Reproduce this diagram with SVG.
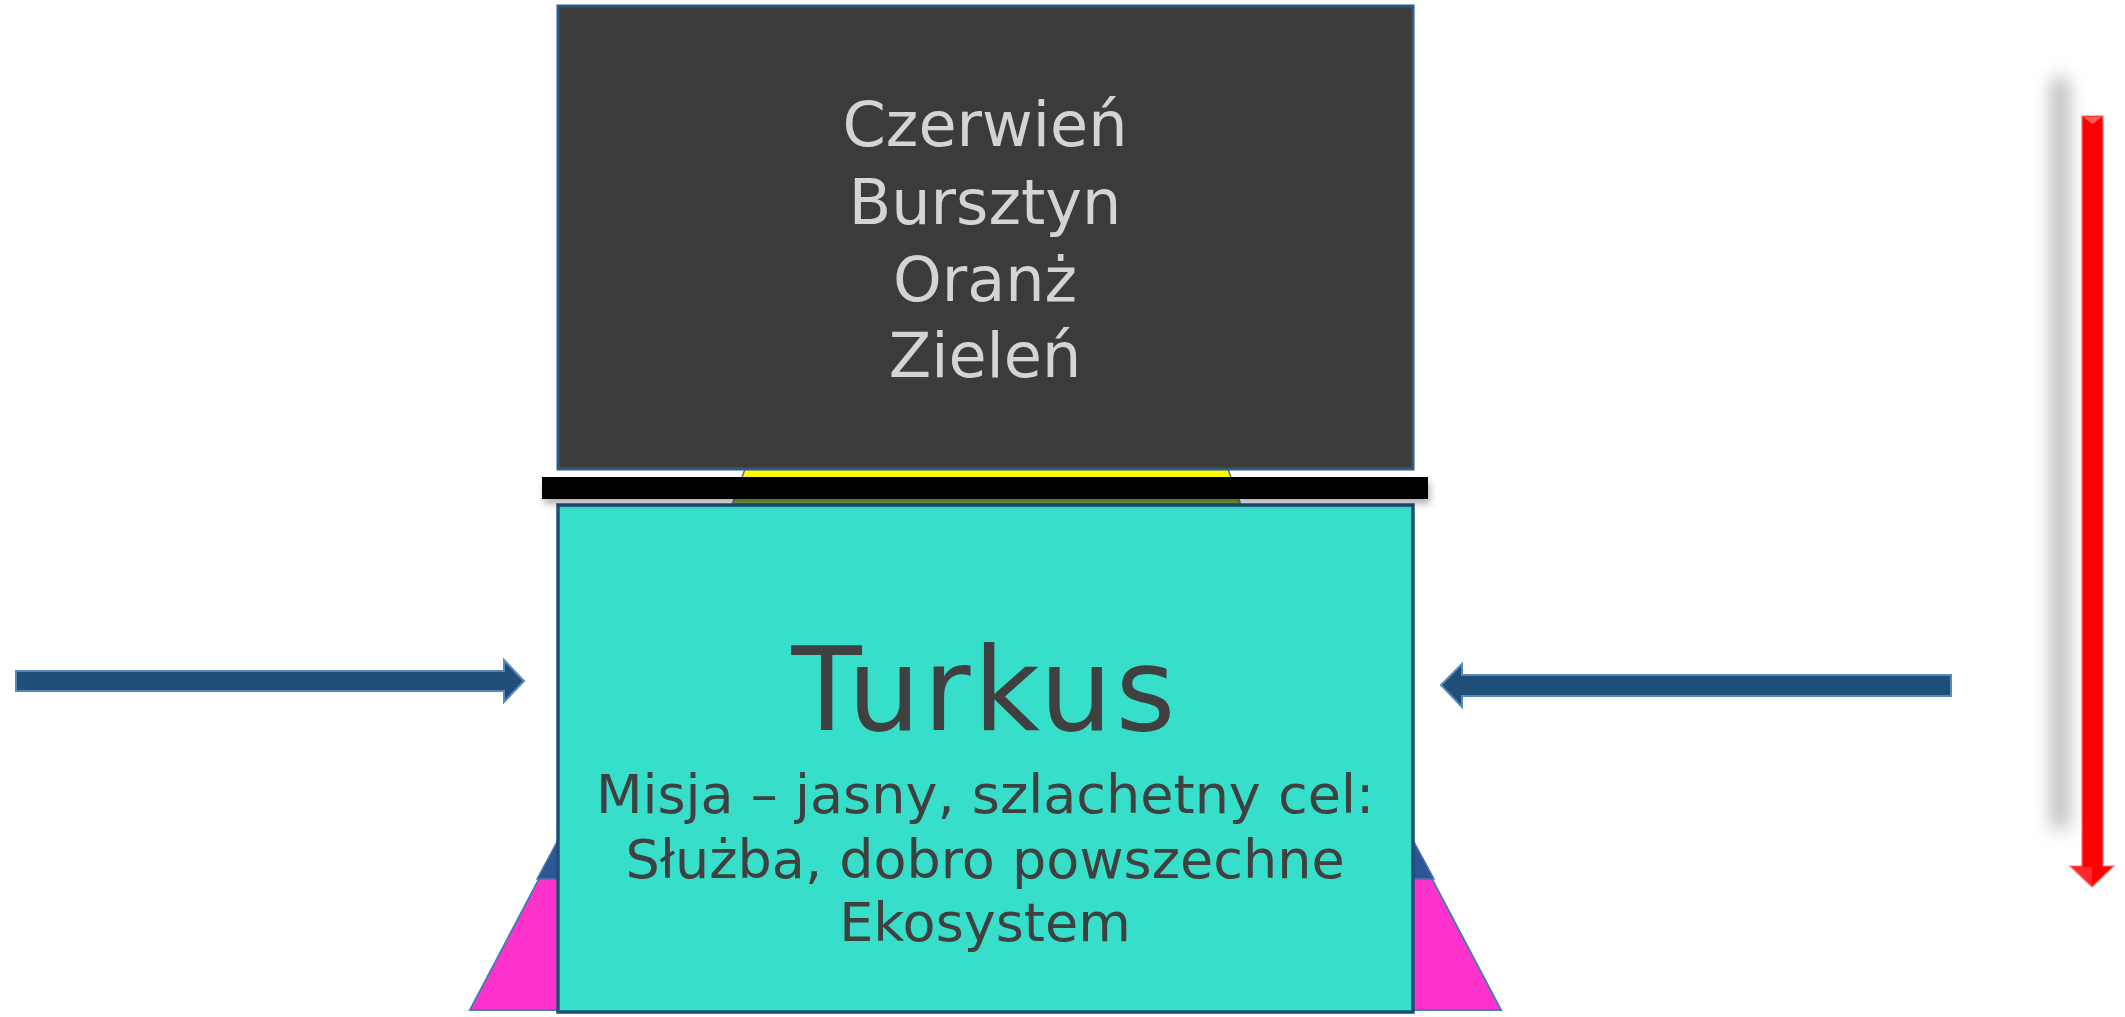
<svg xmlns="http://www.w3.org/2000/svg" width="2125" height="1017" viewBox="0 0 2125 1017">
<style>
.lbl{font-family:"DejaVu Sans","Verdana",sans-serif;text-anchor:middle}
.dark{fill:#d4d4d4;font-size:62px}
.tq{fill:#404040}
.arrow{fill:#1f4e79;stroke:#5b88bb;stroke-width:2}
</style>
<defs>
<linearGradient id="yg" x1="0" y1="0" x2="0" y2="1">
<stop offset="0" stop-color="#ffff00"/>
<stop offset="0.5" stop-color="#ffff00"/>
<stop offset="0.62" stop-color="#6a9030"/>
<stop offset="1" stop-color="#7fae3a"/>
</linearGradient>
<filter id="sh" x="-10%" y="-100%" width="120%" height="400%">
<feGaussianBlur in="SourceAlpha" stdDeviation="3.5"/>
<feOffset dx="2" dy="5" result="b"/>
<feComponentTransfer><feFuncA type="linear" slope="0.3"/></feComponentTransfer>
<feMerge><feMergeNode/><feMergeNode in="SourceGraphic"/></feMerge>
</filter>
<filter id="blur" x="-200%" y="-10%" width="500%" height="120%">
<feGaussianBlur stdDeviation="9"/>
</filter>
</defs>
<rect width="2125" height="1017" fill="#ffffff"/>
<g id="pyramid">
<polygon points="470,1010 539,879 1432,879 1501,1010" fill="#ff33cc" stroke="#4a7ab0" stroke-width="2"/>
<polygon points="537,879 558,840 1413,840 1434,879" fill="#2f5597" stroke="#4a7ab0" stroke-width="1.5"/>
<polygon points="745,469 1228,469 1241,505 732,505" fill="url(#yg)" stroke="#5a6f8a" stroke-width="1.5"/>
</g>
<g id="shadow-bar">
<rect x="2052" y="78" width="16" height="750" fill="#b0b0b0" filter="url(#blur)"/>
</g>
<g id="top-box">
<rect x="558" y="6" width="855" height="463" fill="#3c3b39" stroke="#2e5a87" stroke-width="3"/>
<text class="lbl dark" x="985" y="146">Czerwień</text>
<text class="lbl dark" x="985" y="224">Bursztyn</text>
<text class="lbl dark" x="985" y="301">Oranż</text>
<text class="lbl dark" x="985" y="377">Zieleń</text>
</g>
<g id="turkus-box">
<rect x="558" y="505" width="855" height="507" fill="#37dfcb" stroke="#1f4e79" stroke-width="3.5"/>
<text class="lbl tq" x="985" y="730" font-size="115" letter-spacing="3">Turkus</text>
<text class="lbl tq" x="985" y="813" font-size="54">Misja – jasny, szlachetny cel:</text>
<text class="lbl tq" x="985" y="878" font-size="54">Służba, dobro powszechne</text>
<text class="lbl tq" x="985" y="941" font-size="54">Ekosystem</text>
</g>
<g id="bar">
<rect x="542" y="477" width="886" height="22" fill="#000000" filter="url(#sh)"/>
</g>
<g id="connectors">
<polygon class="arrow" points="16,671 504,671 504,660 524,681 504,702 504,691 16,691"/>
<polygon class="arrow" points="1951,675 1462,675 1462,664 1441,685 1462,707 1462,696 1951,696"/>
<g id="red-arrow">
<polygon points="2082,116 2103,116 2103,866 2114,866 2092,887 2070,866 2082,866" fill="#ff0000" stroke="#ff7070" stroke-width="1.2"/>
<polygon points="2083,117 2102,117 2092.5,124" fill="#ff9999" opacity="0.6"/>
<polygon points="2072,867 2092,867 2092,886" fill="#ff5050" opacity="0.5"/>
</g>
</g>
</svg>
